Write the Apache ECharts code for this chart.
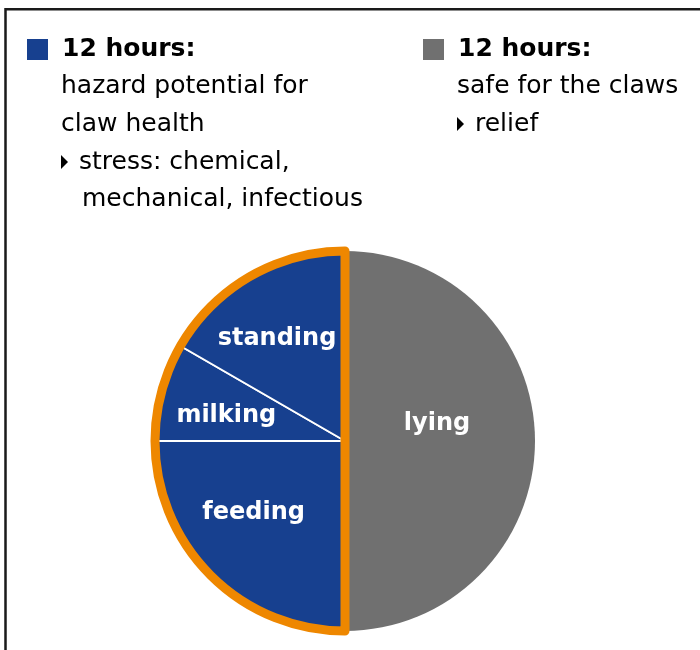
<!DOCTYPE html>
<html>
<head>
<meta charset="utf-8">
<script src="https://cdn.jsdelivr.net/npm/echarts@6/dist/echarts.min.js"></script>
<style>
html,body{margin:0;padding:0;background:#fff;}
#chart{width:700px;height:650px;}
</style>
</head>
<body>
<div id="chart"></div>
<script>
// ---- data ----
const activities = ['lying', 'feeding', 'milking', 'standing'];
const activityHours = [12, 6, 2, 4];
const activityGroup = ['safe', 'hazard', 'hazard', 'hazard'];
const groupNames = ['safe', 'hazard'];
const groupHours = [12, 12];
const hazardTitle = '12 hours:';
const hazardLines = ['hazard potential for', 'claw health'];
const hazardBullet = ['stress: chemical,', 'mechanical, infectious'];
const safeTitle = '12 hours:';
const safeLines = ['safe for the claws'];
const safeBullet = ['relief'];

// ---- styles ----
const BLUE = '#17408F';
const GRAY = '#707070';
const ORANGE = '#EE8700';
const FONT = '"DejaVu Sans", Verdana, sans-serif';
const labelOffsets = { lying: [-6, -17], feeding: [-22, 2], milking: [-24, 0], standing: [-19, -17] };
const CX = 345, CY = 441, R = 190;

const chart = echarts.init(document.getElementById('chart'), null, { renderer: 'canvas' });

function textBlock(x, title, lines, bullet, color) {
  const els = [];
  els.push({ type: 'rect', shape: { x: x - 35, y: 39, width: 21, height: 21 }, style: { fill: color } });
  els.push({ type: 'text', style: { x: x, y: 49.5, text: title, font: 'bold 25px ' + FONT, fill: '#000', textVerticalAlign: 'middle' } });
  let y = 86;
  lines.forEach(l => {
    els.push({ type: 'text', style: { x: x - 1, y: y, text: l, font: '25px ' + FONT, fill: '#000', textVerticalAlign: 'middle' } });
    y += 38;
  });
  bullet.forEach((l, i) => {
    if (i === 0) {
      els.push({ type: 'polygon', shape: { points: [[x - 1, y - 7], [x + 6, y], [x - 1, y + 7]] }, style: { fill: '#000' } });
      els.push({ type: 'text', style: { x: x + 17, y: y, text: l, font: '25px ' + FONT, fill: '#000', textVerticalAlign: 'middle' } });
    } else {
      els.push({ type: 'text', style: { x: x + 20, y: y, text: l, font: '25px ' + FONT, fill: '#000', textVerticalAlign: 'middle' } });
    }
    y += 37.5;
  });
  return els;
}

const graphics = [
  { type: 'rect', shape: { x: 5.5, y: 9.3, width: 800, height: 800 }, style: { fill: 'none', stroke: '#1a1a1a', lineWidth: 2.5 }, silent: true }
].concat(textBlock(62, hazardTitle, hazardLines, hazardBullet, BLUE))
 .concat(textBlock(458, safeTitle, safeLines, safeBullet, GRAY));

const pieData = activities.map((name, i) => {
  const hazard = activityGroup[i] === 'hazard';
  return {
    name: name,
    value: activityHours[i],
    itemStyle: { color: hazard ? BLUE : GRAY, borderColor: '#fff', borderWidth: hazard ? 2 : 0 },
    label: { offset: labelOffsets[name] }
  };
});

const outlineData = groupNames.map((name, i) => ({
  name: name,
  value: groupHours[i],
  itemStyle: name === 'hazard'
    ? { color: 'rgba(0,0,0,0)', borderColor: ORANGE, borderWidth: 9, borderJoin: 'round' }
    : { color: 'rgba(0,0,0,0)', borderWidth: 0 }
}));

chart.setOption({
  animation: false,
  backgroundColor: '#fff',
  graphic: graphics,
  series: [
    {
      type: 'pie',
      center: [CX, CY],
      radius: [0, R],
      startAngle: 90,
      clockwise: true,
      silent: true,
      label: { show: true, position: 'inside', color: '#fff', fontFamily: FONT, fontWeight: 'bold', fontSize: 24 },
      labelLine: { show: false },
      data: pieData
    },
    {
      type: 'pie',
      center: [CX, CY],
      radius: [0, R],
      startAngle: 90,
      clockwise: true,
      silent: true,
      label: { show: false },
      labelLine: { show: false },
      data: outlineData
    }
  ]
});
</script>
</body>
</html>
